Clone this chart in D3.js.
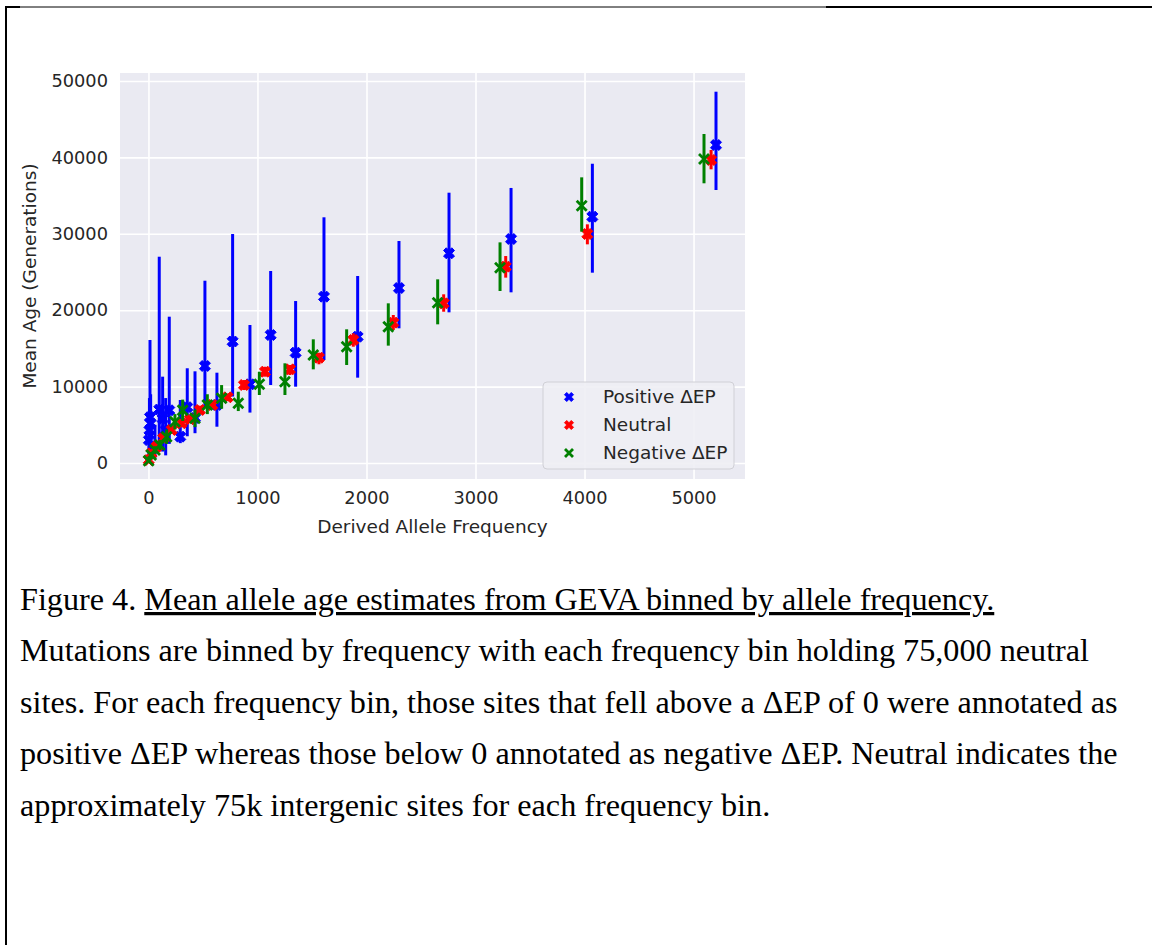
<!DOCTYPE html>
<html>
<head>
<meta charset="utf-8">
<script src="https://cdn.jsdelivr.net/npm/d3@7"></script>
<style>
  html, body { margin: 0; padding: 0; background: #fff; }
  svg { display: block; }
</style>
</head>
<body>
<svg id="fig" width="1152" height="945"></svg>
<script>
// Mean GEVA allele age per frequency bin, split by ΔEP class.
const xTicks = [0, 1000, 2000, 3000, 4000, 5000];
const yTicks = [0, 10000, 20000, 30000, 40000, 50000];

const posFreq = [4, 9, 14, 20, 60, 99, 130, 158, 191, 292, 356, 427, 518, 628, 772, 931, 1121, 1350, 1610, 1919, 2298, 2757, 3326, 4072, 5206];
const posAge  = [3000, 4300, 6000, 5200, 2000, 7000, 5800, 4300, 6900, 3450, 7300, 5900, 12700, 7600, 15900, 10300, 16750, 14440, 21770, 16530, 22900, 27450, 29320, 32240, 41620];
const posLo   = [600, 1000, 1500, 1200, 700, 2000, 1500, 1000, 2500, 2600, 3500, 3900, 7200, 4750, 8700, 6600, 10210, 9990, 13480, 11170, 17630, 19720, 22340, 24910, 35730];
const posHi   = [6000, 8500, 16100, 9000, 5000, 27000, 11300, 8500, 19150, 8250, 12400, 12000, 23860, 11820, 29970, 18060, 25130, 21200, 32160, 24480, 29060, 35380, 36000, 39170, 48600];

const neuFreq = [3, 29, 75, 136, 213, 304, 381, 472, 586, 726, 876, 1069, 1298, 1564, 1879, 2246, 2708, 3277, 4026, 5161];
const neuAge  = [390, 1270, 2130, 3230, 4320, 5200, 5720, 6940, 7590, 8600, 10210, 11950, 12260, 13780, 16100, 18370, 20900, 25700, 29970, 39660];
const neuLo   = [250, 1050, 1850, 2900, 3900, 4700, 5200, 6400, 7100, 8100, 9550, 11300, 11520, 12920, 15220, 17410, 19800, 24260, 28620, 38440];
const neuHi   = [550, 1500, 2450, 3600, 4750, 5700, 6250, 7500, 8100, 9100, 10860, 12600, 12830, 14440, 16970, 19370, 22080, 27090, 31240, 40970];

const negFreq = [2, 25, 60, 105, 167, 243, 314, 427, 540, 671, 824, 1017, 1252, 1512, 1818, 2200, 2653, 3225, 3974, 5096];
const negAge  = [300, 1050, 1700, 2360, 3450, 5410, 6900, 5850, 7590, 8470, 7810, 10300, 10640, 14140, 15220, 17840, 20980, 25570, 33680, 39790];
const negLo   = [100, 700, 1200, 1700, 2500, 4400, 5500, 4700, 6400, 7100, 6800, 8900, 8900, 12260, 12830, 15360, 18150, 22510, 30280, 36610];
const negHi   = [500, 1400, 2200, 3000, 4400, 6400, 8300, 7000, 9000, 10200, 9330, 11950, 13050, 16190, 17500, 20900, 24040, 28880, 37390, 43063];

const seriesNames = ["Positive ΔEP", "Neutral", "Negative ΔEP"];
const seriesColors = ["#0000ff", "#ff0000", "#008000"];

const captionTitle = "Mean allele age estimates from GEVA binned by allele frequency.";
const captionLines = [
  "Mutations are binned by frequency with each frequency bin holding 75,000 neutral",
  "sites. For each frequency bin, those sites that fell above a ΔEP of 0 were annotated as",
  "positive ΔEP whereas those below 0 annotated as negative ΔEP. Neutral indicates the",
  "approximately 75k intergenic sites for each frequency bin."
];

const toRows = (f, a, lo, hi) => f.map((v, i) => ({ f: v, a: a[i], lo: lo[i], hi: hi[i] }));
const series = [
  { name: seriesNames[0], color: seriesColors[0], marker: "X", rows: toRows(posFreq, posAge, posLo, posHi) },
  { name: seriesNames[1], color: seriesColors[1], marker: "X", rows: toRows(neuFreq, neuAge, neuLo, neuHi) },
  { name: seriesNames[2], color: seriesColors[2], marker: "x", rows: toRows(negFreq, negAge, negLo, negHi) }
];

const svg = d3.select("#fig");
const textColor = "#262626";
const tickFont = "'DejaVu Sans', sans-serif";

// page frame
svg.append("rect").attr("width", 1152).attr("height", 945).attr("fill", "#fff");
svg.append("line").attr("x1", 5).attr("x2", 20).attr("y1", 7).attr("y2", 7).attr("stroke", "#000").attr("stroke-width", 2);
svg.append("line").attr("x1", 20).attr("x2", 826).attr("y1", 7).attr("y2", 7).attr("stroke", "#000").attr("stroke-width", 1);
svg.append("line").attr("x1", 826).attr("x2", 1152).attr("y1", 7).attr("y2", 7).attr("stroke", "#000").attr("stroke-width", 2);
svg.append("line").attr("x1", 6).attr("x2", 6).attr("y1", 6).attr("y2", 945).attr("stroke", "#000").attr("stroke-width", 2);

// plot area
const plot = { left: 120, right: 745, top: 73, bottom: 479 };
const x = d3.scaleLinear().domain([-261, 5472]).range([plot.left, plot.right]);
const y = d3.scaleLinear().domain([-2094, 51047]).range([plot.bottom, plot.top]);

svg.append("rect")
  .attr("x", plot.left).attr("y", plot.top)
  .attr("width", plot.right - plot.left).attr("height", plot.bottom - plot.top)
  .attr("fill", "#eaeaf2");

// grid + tick labels via axes
const xAxis = svg.append("g")
  .attr("transform", `translate(0,${plot.bottom})`)
  .call(d3.axisBottom(x).tickValues(xTicks).tickFormat(d3.format("d"))
    .tickSize(-(plot.bottom - plot.top)).tickPadding(12));
const yAxis = svg.append("g")
  .attr("transform", `translate(${plot.left},0)`)
  .call(d3.axisLeft(y).tickValues(yTicks).tickFormat(d3.format("d"))
    .tickSize(-(plot.right - plot.left)).tickPadding(12));
[xAxis, yAxis].forEach(g => {
  g.select(".domain").remove();
  g.selectAll(".tick line").attr("stroke", "#fff").attr("stroke-width", 1.6);
  g.selectAll(".tick text").attr("fill", textColor)
    .style("font-family", tickFont).style("font-size", "17.8px");
});
xAxis.selectAll(".tick text").attr("dy", "0.71em");

// axis titles
svg.append("text")
  .attr("x", (plot.left + plot.right) / 2).attr("y", 533)
  .attr("text-anchor", "middle").attr("fill", textColor)
  .style("font-family", tickFont).style("font-size", "18.5px")
  .text("Derived Allele Frequency");
svg.append("text")
  .attr("transform", `translate(36,${(plot.top + plot.bottom) / 2}) rotate(-90)`)
  .attr("text-anchor", "middle").attr("fill", textColor)
  .style("font-family", tickFont).style("font-size", "18.5px")
  .text("Mean Age (Generations)");

// marker shapes
const xFilledPts = [[-1,-2],[0,-1],[1,-2],[2,-1],[1,0],[2,1],[1,2],[0,1],[-1,2],[-2,1],[-1,0],[-2,-1]];
function filledX(size) {
  const s = size / 4;
  return "M" + xFilledPts.map(p => `${p[0] * s},${p[1] * s}`).join("L") + "Z";
}
function thinX(size) {
  const h = size / 2;
  return `M${-h},${-h}L${h},${h}M${-h},${h}L${h},${-h}`;
}
function drawMarker(g, kind, color, size) {
  if (kind === "X") {
    g.append("path").attr("d", filledX(size)).attr("fill", color).attr("stroke", color).attr("stroke-width", 1);
  } else {
    g.append("path").attr("d", thinX(size)).attr("fill", "none").attr("stroke", color).attr("stroke-width", 2.8);
  }
}

const marks = svg.append("g");
series.forEach(s => {
  const g = marks.append("g");
  g.selectAll("line.err").data(s.rows).join("line")
    .attr("class", "err")
    .attr("x1", d => x(d.f)).attr("x2", d => x(d.f))
    .attr("y1", d => y(d.lo)).attr("y2", d => y(d.hi))
    .attr("stroke", s.color).attr("stroke-width", 3);
  s.rows.forEach(d => {
    const m = g.append("g").attr("transform", `translate(${x(d.f)},${y(d.a)})`);
    drawMarker(m, s.marker, s.color, s.marker === "X" ? 11 : 10);
  });
});

// legend
const leg = svg.append("g").attr("transform", "translate(543,382)");
leg.append("rect").attr("width", 191).attr("height", 87).attr("rx", 4)
  .attr("fill", "#eeeef4").attr("fill-opacity", 0.9)
  .attr("stroke", "#d0d0d6").attr("stroke-width", 1);
series.forEach((s, i) => {
  const row = leg.append("g").attr("transform", `translate(26,${15 + i * 28})`);
  drawMarker(row, s.marker, s.color, s.marker === "X" ? 9 : 8);
  row.append("text").attr("x", 34).attr("y", 0).attr("dy", "0.35em")
    .attr("fill", textColor).style("font-family", tickFont).style("font-size", "18.5px")
    .text(s.name);
});

// caption
const capFont = "'Liberation Serif', 'Times New Roman', serif";
const capSize = "32.2px";
const t0 = svg.append("text").attr("x", 20).attr("y", 610)
  .attr("fill", "#000").style("font-family", capFont).style("font-size", capSize);
t0.append("tspan").text("Figure 4. ");
t0.append("tspan").style("text-decoration", "underline").text(captionTitle);
captionLines.forEach((line, i) => {
  svg.append("text").attr("x", 20).attr("y", 661 + i * 51.7)
    .attr("fill", "#000").style("font-family", capFont).style("font-size", capSize)
    .text(line);
});
</script>
</body>
</html>
